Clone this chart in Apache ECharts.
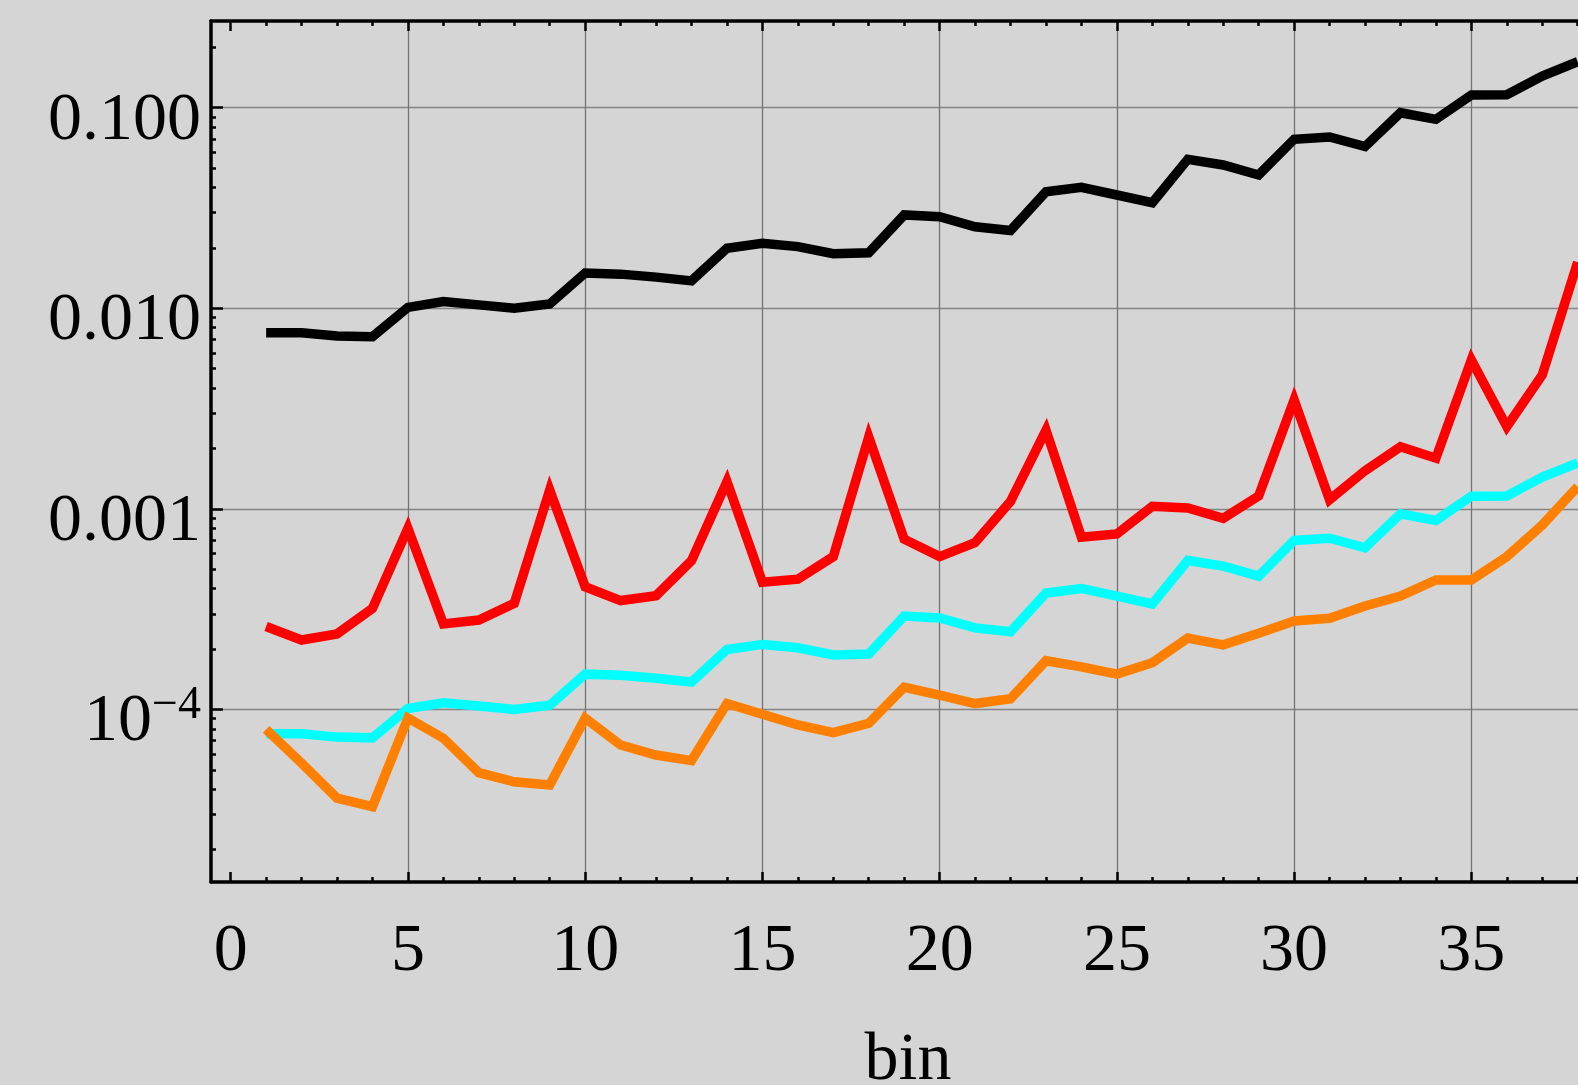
<!DOCTYPE html>
<html>
<head>
<meta charset="utf-8">
<script src="https://cdn.jsdelivr.net/npm/echarts@6/dist/echarts.min.js"></script>
<style>
html, body { margin: 0; padding: 0; background: #d5d5d5; }
#main { width: 1578px; height: 1085px; }
</style>
</head>
<body>
<div id="main"></div>
<script>
var bins = [1, 2, 3, 4, 5, 6, 7, 8, 9, 10, 11, 12, 13, 14, 15, 16, 17, 18, 19, 20,
    21, 22, 23, 24, 25, 26, 27, 28, 29, 30, 31, 32, 33, 34, 35, 36, 37, 38];

var blackLine = [0.00756, 0.00756, 0.00728, 0.00722, 0.0101, 0.0108, 0.0104, 0.0100, 0.0105, 0.0150,
    0.0148, 0.0143, 0.0137, 0.0199, 0.0211, 0.0203, 0.0187, 0.0189, 0.0292, 0.0286,
    0.0255, 0.0244, 0.0381, 0.0401, 0.0367, 0.0336, 0.0553, 0.0518, 0.0462, 0.0696,
    0.0714, 0.0640, 0.0944, 0.0875, 0.1157, 0.1160, 0.1439, 0.1695];

var redLine = [0.000259, 0.000222, 0.000238, 0.000319, 0.00080, 0.000267, 0.000279, 0.000338, 0.00124, 0.000409,
    0.000349, 0.000369, 0.000552, 0.00137, 0.000431, 0.000446, 0.000578, 0.00228, 0.000706, 0.000578,
    0.000679, 0.00109, 0.00247, 0.000722, 0.000750, 0.00103, 0.00101, 0.000898, 0.00116, 0.00349,
    0.00111, 0.00155, 0.00204, 0.00179, 0.00552, 0.00257, 0.00465, 0.0170];

var cyanLine = [0.0000756, 0.0000756, 0.0000728, 0.0000722, 0.000101, 0.000108, 0.000104, 0.000100, 0.000105, 0.000150,
    0.000148, 0.000143, 0.000137, 0.000199, 0.000211, 0.000203, 0.000187, 0.000189, 0.000292, 0.000286,
    0.000255, 0.000244, 0.000381, 0.000401, 0.000367, 0.000336, 0.000553, 0.000518, 0.000462, 0.000696,
    0.000714, 0.000640, 0.000944, 0.000875, 0.001157, 0.001160, 0.001439, 0.001695];

var orangeLine = [0.0000796, 0.0000540, 0.0000361, 0.0000328, 0.0000907, 0.0000719, 0.0000484, 0.0000436, 0.0000420, 0.0000904,
    0.0000665, 0.0000593, 0.0000556, 0.000107, 0.0000946, 0.0000837, 0.0000766, 0.0000853, 0.000129, 0.000118,
    0.000107, 0.000113, 0.000175, 0.000163, 0.000150, 0.000171, 0.000227, 0.000210, 0.000240, 0.000276,
    0.000285, 0.000328, 0.000368, 0.000442, 0.000442, 0.000578, 0.000831, 0.00129];

var xMajorTicks = [0, 5, 10, 15, 20, 25, 30, 35];
var xMinorTicks = [1, 2, 3, 4, 6, 7, 8, 9, 11, 12, 13, 14, 16, 17, 18, 19, 21, 22, 23, 24,
    26, 27, 28, 29, 31, 32, 33, 34, 36, 37, 38];
var yMajorTicks = [0.0001, 0.001, 0.01, 0.1];
var yTickLabels = ["{m|10}{e|\u22124}", "{m|0.001}", "{m|0.010}", "{m|0.100}"];
var yMinorTicks = [2e-5, 3e-5, 4e-5, 5e-5, 6e-5, 7e-5, 8e-5, 9e-5,
    2e-4, 3e-4, 4e-4, 5e-4, 6e-4, 7e-4, 8e-4, 9e-4,
    0.002, 0.003, 0.004, 0.005, 0.006, 0.007, 0.008, 0.009,
    0.02, 0.03, 0.04, 0.05, 0.06, 0.07, 0.08, 0.09, 0.2];

function pairs(ys) {
    return bins.map(function (b, i) { return [b, ys[i]]; });
}

var font = "Liberation Serif";
var xMin = -0.555, xMax = 38.77;
var yMin = 1.38e-5, yMax = 0.2705;

function xAxisBase(pos) {
    return {
        type: "value", position: pos, min: xMin, max: xMax,
        axisLine: { show: false, onZero: false }, axisLabel: { show: false },
        splitLine: { show: false }, axisTick: { show: false }
    };
}

var xBottom = xAxisBase("bottom");
xBottom.axisLine = { show: true, onZero: false, lineStyle: { color: "#000", width: 3.5 } };
xBottom.axisTick = { show: true, inside: true, length: 10, customValues: xMajorTicks, lineStyle: { color: "#000", width: 2.5 } };
xBottom.axisLabel = { show: true, customValues: xMajorTicks, margin: 36, fontFamily: font, fontSize: 68, color: "#000" };
xBottom.splitLine = { show: true, lineStyle: { color: ["rgba(0,0,0,0)", "#747474", "#747474", "#747474", "#747474", "#747474", "#747474", "#747474"], width: 1.3 } };
xBottom.name = "bin";
xBottom.nameLocation = "middle";
xBottom.nameGap = 145;
xBottom.nameTextStyle = { fontFamily: font, fontSize: 68, color: "#000" };

var xBottomMinor = xAxisBase("bottom");
xBottomMinor.axisTick = { show: true, inside: true, length: 5, customValues: xMinorTicks, lineStyle: { color: "#000", width: 2.5 } };

var xTop = xAxisBase("top");
xTop.axisLine = { show: true, onZero: false, lineStyle: { color: "#000", width: 3.5 } };
xTop.axisTick = { show: true, inside: true, length: 10, customValues: xMajorTicks, lineStyle: { color: "#000", width: 2.5 } };

var xTopMinor = xAxisBase("top");
xTopMinor.axisTick = { show: true, inside: true, length: 5, customValues: xMinorTicks, lineStyle: { color: "#000", width: 2.5 } };

var yMain = {
    type: "log", logBase: 10, position: "left", min: yMin, max: yMax,
    axisLine: { show: true, onZero: false, lineStyle: { color: "#000", width: 3.5 } },
    axisTick: { show: true, inside: true, length: 12, customValues: yMajorTicks, lineStyle: { color: "#000", width: 2.5 } },
    axisLabel: {
        show: true, customValues: yMajorTicks, margin: 10, padding: [26, 0, 0, 0],
        fontFamily: font, fontSize: 68, color: "#000",
        formatter: function (v) {
            for (var i = 0; i < yMajorTicks.length; i++) {
                if (Math.abs(Math.log10(v) - Math.log10(yMajorTicks[i])) < 1e-6) return yTickLabels[i];
            }
            return "";
        },
        rich: {
            m: { fontFamily: font, fontSize: 68, lineHeight: 80, color: "#000" },
            e: { fontFamily: font, fontSize: 46, lineHeight: 42, verticalAlign: "top", color: "#000" }
        }
    },
    splitLine: { show: true, lineStyle: { color: "#858585", width: 1.3 } }
};

var yMinor = {
    type: "log", logBase: 10, position: "left", min: yMin, max: yMax,
    axisLine: { show: false, onZero: false },
    axisTick: { show: true, inside: true, length: 5, customValues: yMinorTicks, lineStyle: { color: "#000", width: 2.5 } },
    axisLabel: { show: false },
    splitLine: { show: false }
};

function lineSeries(ys, color) {
    return {
        type: "line", xAxisIndex: 0, yAxisIndex: 0, data: pairs(ys),
        symbol: "none", animation: false,
        lineStyle: { color: color, width: 9.5, join: "miter", miterLimit: 10, cap: "butt" }
    };
}

var myChart = echarts.init(document.getElementById("main"));
var option = {
    backgroundColor: "#d5d5d5",
    animation: false,
    grid: { left: 211, top: 21, width: 1394, bottom: 203, containLabel: false, outerBoundsMode: "none" },
    xAxis: [xBottom, xBottomMinor, xTop, xTopMinor],
    yAxis: [yMain, yMinor],
    series: [
        lineSeries(blackLine, "#000000"),
        lineSeries(redLine, "#ff0000"),
        lineSeries(cyanLine, "#00ffff"),
        lineSeries(orangeLine, "#ff8000")
    ]
};
myChart.setOption(option);
</script>
</body>
</html>
